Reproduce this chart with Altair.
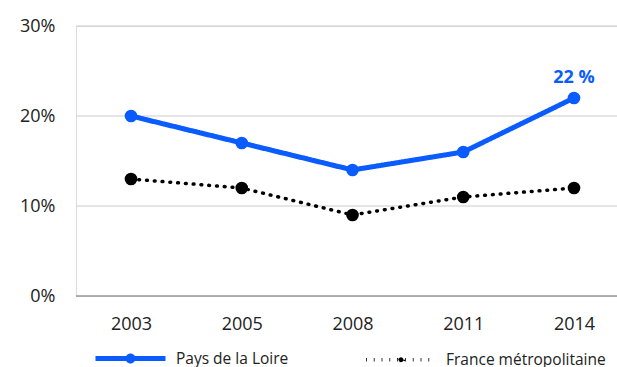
import altair as alt
import pandas as pd

years = ["2003", "2005", "2008", "2011", "2014"]
pays = [20, 17, 14, 16, 22]
france = [13, 12, 9, 11, 12]
series = ["Pays de la Loire", "France métropolitaine"]
colors = ["#0a5cff", "#000000"]
grid_ticks = [0, 0.1, 0.2, 0.3]

rows = []
for y, v in zip(years, pays):
    rows.append({"annee": y, "serie": series[0], "val": v / 100})
for y, v in zip(years, france):
    rows.append({"annee": y, "serie": series[1], "val": v / 100})
df = pd.DataFrame(rows)
grid_df = pd.DataFrame({"val": grid_ticks})

FONT = "Open Sans"
sym = "M-1,0H1M0.07,0A0.07,0.07,0,1,1,-0.07,0A0.07,0.07,0,1,1,0.07,0Z"

x = alt.X("annee:O", title=None,
          scale=alt.Scale(type="point", range=[55, 498], padding=0),
          axis=alt.Axis(labelAngle=0, labelFontSize=18, labelColor="#222222",
                        labelFont=FONT, ticks=False, domain=False,
                        labelPadding=19, grid=False))
y = alt.Y("val:Q", title=None,
          scale=alt.Scale(domain=[0, 0.3]),
          axis=alt.Axis(format=".0%", values=grid_ticks, labelFontSize=18,
                        labelColor="#222222", labelFont=FONT, ticks=False,
                        domain=False, grid=False, labelPadding=21))


def leg():
    return alt.Legend(orient="none", legendX=17, legendY=295,
                      direction="horizontal", symbolType=sym,
                      symbolSize=4900, labelFontSize=15.5,
                      labelFont=FONT, labelColor="#222222",
                      columnPadding=70, labelOffset=8)


color = alt.Color("serie:N", title=None,
                  scale=alt.Scale(domain=series, range=colors), legend=leg())
dash = alt.StrokeDash("serie:N", title=None,
                      scale=alt.Scale(domain=series, range=[[1, 0], [0.8, 7]]),
                      legend=leg())
sw = alt.StrokeWidth("serie:N", title=None,
                     scale=alt.Scale(domain=series, range=[5, 3.5]),
                     legend=leg())

gridlines = alt.Chart(grid_df).mark_rule().encode(
    y=alt.Y("val:Q", scale=alt.Scale(domain=[0, 0.3])),
    x=alt.value(0), x2=alt.value(541),
    color=alt.condition(alt.datum.val == 0, alt.value("#999999"), alt.value("#cccccc")),
    strokeWidth=alt.condition(alt.datum.val == 0, alt.value(1.6), alt.value(1.2)),
)

base = alt.Chart(df)
lines = base.mark_line(strokeCap="round").encode(x=x, y=y, color=color,
                                                 strokeDash=dash, strokeWidth=sw)
points = base.mark_point(filled=True, size=160, opacity=1).encode(
    x=x, y=y, color=alt.Color("serie:N", scale=alt.Scale(domain=series, range=colors),
                              legend=leg()))
label = base.transform_filter(
    (alt.datum.annee == "2014") & (alt.datum.serie == series[0])
).transform_calculate(
    txt="format(datum.val*100, '.0f') + ' %'"
).mark_text(dy=-20, fontSize=18, fontWeight="bold", font=FONT,
            color=colors[0]).encode(x=x, y=y, text="txt:N")

chart = alt.layer(gridlines, lines, points, label).properties(
    width=541, height=270,
    padding={"left": 76, "top": 26, "right": 0, "bottom": 71},
    autosize=alt.AutoSizeParams(type="none"),
).configure_view(stroke=None).configure(font=FONT)

chart.save("out.html", embed_options={"renderer": "svg", "actions": False})
